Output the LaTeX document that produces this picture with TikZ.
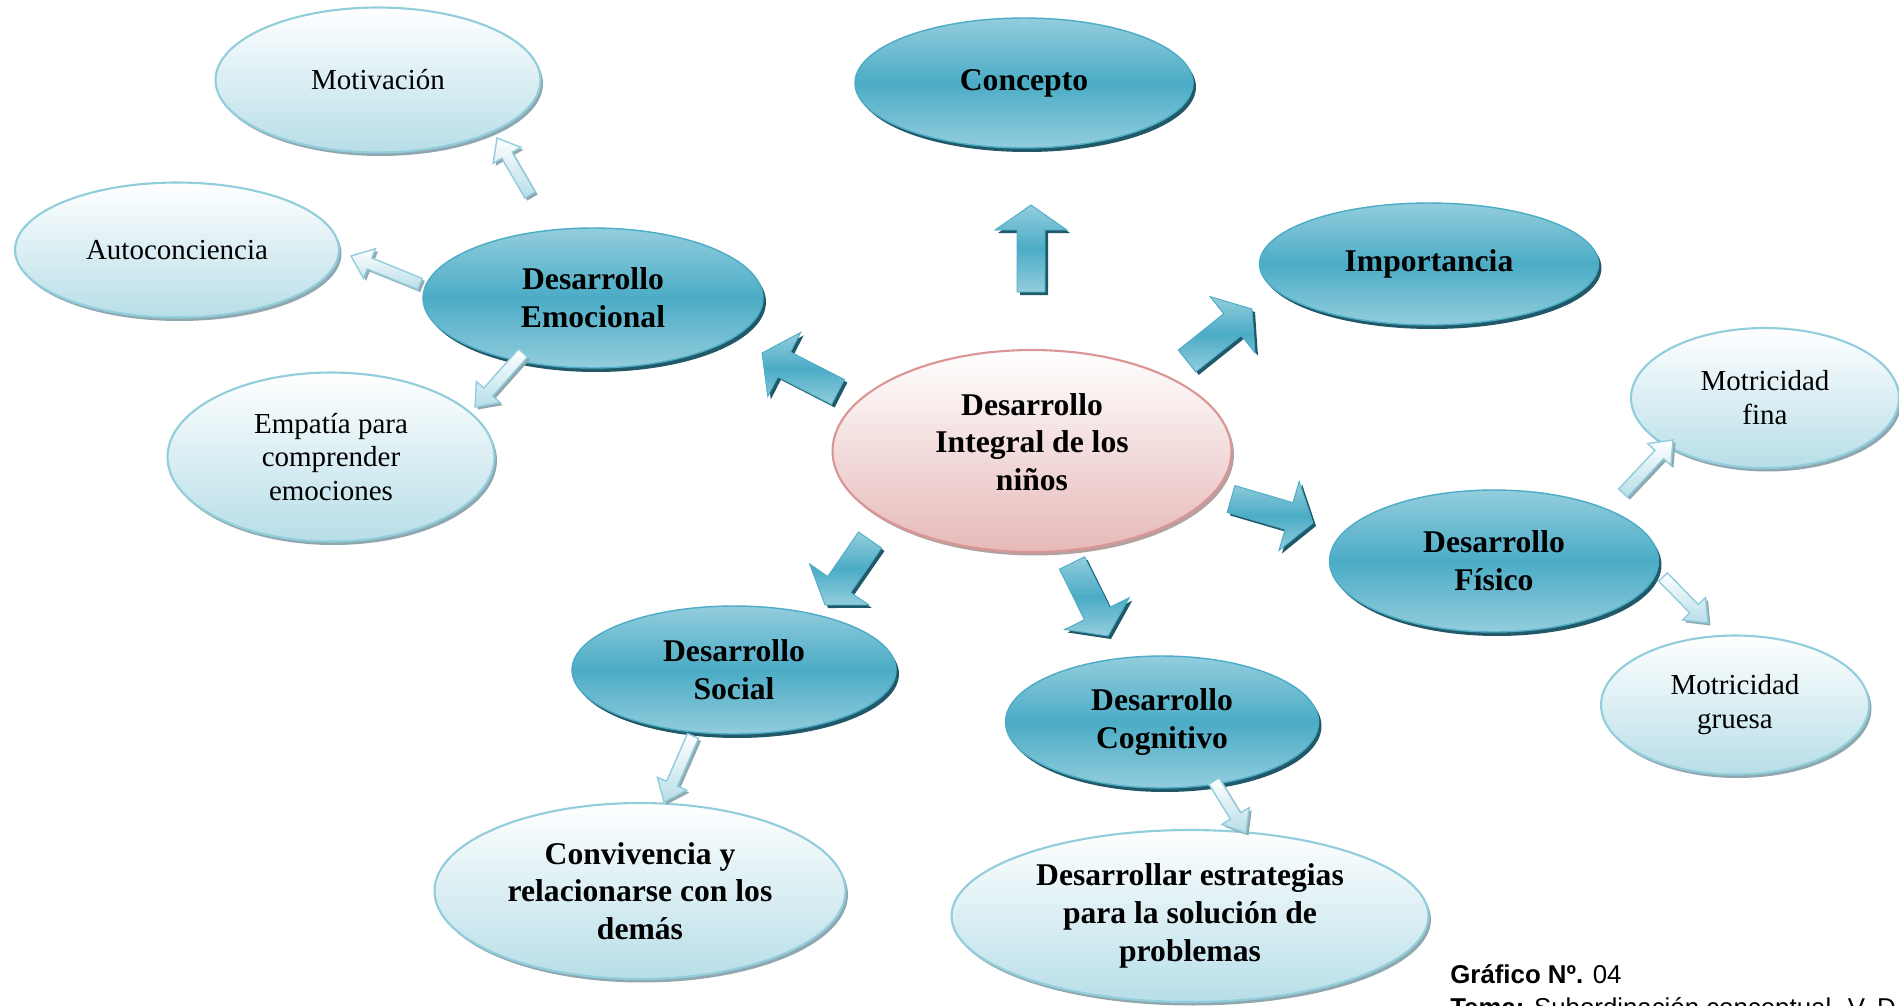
\documentclass[tikz,border=0pt]{standalone}
\usepackage{fontspec}
\setmainfont{Liberation Serif}
\newfontfamily\capfont{Liberation Sans}
\usetikzlibrary{shapes.geometric, shadows, calc}

\definecolor{azulmed}{HTML}{4BACC6}
\definecolor{azulclaro}{HTML}{93CDDD}
\definecolor{azulsombra}{HTML}{215968}
\definecolor{celeste}{HTML}{B7DEE8}
\definecolor{celesteborde}{HTML}{92CDDC}
\definecolor{celestesombra}{HTML}{8FA7AF}
\definecolor{rosa}{HTML}{E6B9B8}
\definecolor{rosaborde}{HTML}{D99694}
\definecolor{rosasombra}{HTML}{B3A0A0}

\newcommand{\negrita}{\fontsize{18}{21.5}\selectfont\bfseries}
\newcommand{\fuentenormal}{\fontsize{16.5}{19.3}\selectfont}

% block arrow: style, tail, tip, half shaft, half head, head length
\newcommand{\blockarrow}[6]{%
    \path[#1] ($(#2)!#4!90:(#3)$) -- ($(#3)!#6!(#2)!#4!90:(#3)$)
        -- ($(#3)!#6!(#2)!#5!90:(#3)$) -- (#3)
        -- ($(#3)!#6!(#2)!#5!-90:(#3)$) -- ($(#3)!#6!(#2)!#4!-90:(#3)$)
        -- ($(#2)!#4!-90:(#3)$) -- cycle;}

\tikzset{
    every node/.style={align=center, inner sep=0pt}, % text centred, no padding
    principal/.style={ellipse, draw=rosaborde, line width=1.2pt, top color=white, bottom color=rosa,
        drop shadow={shadow xshift=0.05cm, shadow yshift=-0.07cm, fill=rosasombra, opacity=1}},
    tema/.style={ellipse, draw=azulmed, line width=0.8pt, top color=azulclaro, bottom color=azulclaro, middle color=azulmed,
        drop shadow={shadow xshift=0.06cm, shadow yshift=-0.08cm, fill=azulsombra, opacity=1}, font=\negrita},
    sub/.style={ellipse, draw=celesteborde, line width=1.2pt, top color=white, bottom color=celeste,
        drop shadow={shadow xshift=0.05cm, shadow yshift=-0.07cm, fill=celestesombra, opacity=1}, font=\fuentenormal},
    subneg/.style={sub, font=\negrita},
    flecha/.style={top color=azulclaro, bottom color=azulclaro, middle color=azulmed, draw=azulmed, line width=0.5pt},
    flechasombra/.style={fill=azulsombra, transform canvas={shift={(0.06cm,-0.06cm)}}},
    flechita/.style={top color=white, bottom color=celeste, draw=celesteborde, line width=0.8pt},
    flechitasombra/.style={fill=celestesombra, transform canvas={shift={(0.05cm,-0.05cm)}}},
}

\begin{document}
\begin{tikzpicture}[x=0.02cm, y=-0.02cm]
\useasboundingbox (0,0) rectangle (1899,1005);
\clip (0,0) rectangle (1899,1005);
\fill[white] (0,0) rectangle (1899,1005);

% ellipses
\node[principal, minimum width=7.98cm, minimum height=4.04cm] (cen) at (1032,451) {};
\node[font=\negrita] (cenTxt) at ($(cen.center)+(0,-9)$) {Desarrollo\\Integral de los\\niños};
\node[tema, minimum width=6.76cm, minimum height=2.6cm] (con) at (1024,83) {Concepto};
\node[tema, minimum width=6.78cm, minimum height=2.44cm] (imp) at (1429,264) {Importancia};
\node[tema, minimum width=6.8cm, minimum height=2.8cm] (emo) at (593,298) {Desarrollo\\Emocional};
\node[tema, minimum width=6.58cm, minimum height=2.84cm] (fis) at (1494,561) {Desarrollo\\Físico};
\node[tema, minimum width=6.48cm, minimum height=2.56cm] (soc) at (734,670) {Desarrollo\\Social};
\node[tema, minimum width=6.26cm, minimum height=2.64cm] (cog) at (1162,722) {Desarrollo\\Cognitivo};
\node[sub, minimum width=6.5cm, minimum height=2.9cm] (mot) at (378,80) {Motivación};
\node[sub, minimum width=6.48cm, minimum height=2.7cm] (auto) at (177,250) {Autoconciencia};
\node[sub, minimum width=6.54cm, minimum height=3.38cm] (emp) at (331,457) {Empatía para\\comprender\\emociones};
\node[sub, minimum width=5.36cm, minimum height=2.8cm] (mfin) at (1765,398) {Motricidad\\fina};
\node[sub, minimum width=5.36cm, minimum height=2.78cm] (mgru) at (1735,705) {Motricidad\\gruesa};
\node[subneg, minimum width=8.22cm, minimum height=3.52cm] (conv) at (640,891) {Convivencia y\\relacionarse con los\\demás};
\node[subneg, minimum width=9.54cm, minimum height=3.44cm] (estr) at (1190,916) {Desarrollar estrategias\\para la solución de\\problemas};

% arrow ends
\coordinate (conT) at (1031,292); \coordinate (conH) at (1031,205);
\coordinate (impT) at (1187,361); \coordinate (impH) at (1252,309);
\coordinate (fisT) at (1231,499); \coordinate (fisH) at (1313,523);
\coordinate (emoT) at (838,392);  \coordinate (emoH) at (762,353);
\coordinate (socT) at (870,540);  \coordinate (socH) at (825,605);
\coordinate (cogT) at (1072,563); \coordinate (cogH) at (1108,636);
\coordinate (motT) at (530,195);  \coordinate (motH) at (497,138);
\coordinate (autoT) at (420,284); \coordinate (autoH) at (351,256);
\coordinate (empT) at (523,353);  \coordinate (empH) at (475,407);
\coordinate (convT) at (693,736); \coordinate (convH) at (664,802);
\coordinate (estrT) at (1214,781); \coordinate (estrH) at (1246,833);
\coordinate (mfinT) at (1623,493); \coordinate (mfinH) at (1673,440);
\coordinate (mgruT) at (1663,577); \coordinate (mgruH) at (1708,623);

% big arrows from the centre
\blockarrow{flechasombra}{conT}{conH}{0.28cm}{0.72cm}{0.5cm}
\blockarrow{flecha}{conT}{conH}{0.28cm}{0.72cm}{0.5cm}
\blockarrow{flechasombra}{impT}{impH}{0.28cm}{0.72cm}{0.5cm}
\blockarrow{flecha}{impT}{impH}{0.28cm}{0.72cm}{0.5cm}
\blockarrow{flechasombra}{fisT}{fisH}{0.28cm}{0.72cm}{0.5cm}
\blockarrow{flecha}{fisT}{fisH}{0.28cm}{0.72cm}{0.5cm}
\blockarrow{flechasombra}{emoT}{emoH}{0.28cm}{0.72cm}{0.5cm}
\blockarrow{flecha}{emoT}{emoH}{0.28cm}{0.72cm}{0.5cm}
\blockarrow{flechasombra}{socT}{socH}{0.28cm}{0.72cm}{0.5cm}
\blockarrow{flecha}{socT}{socH}{0.28cm}{0.72cm}{0.5cm}
\blockarrow{flechasombra}{cogT}{cogH}{0.28cm}{0.72cm}{0.5cm}
\blockarrow{flecha}{cogT}{cogH}{0.28cm}{0.72cm}{0.5cm}

% small arrows to the sub ideas
\foreach \n in {mot, auto, emp, conv, estr, mfin, mgru} {
    \blockarrow{flechitasombra}{\n T}{\n H}{0.12cm}{0.32cm}{0.4cm}
    \blockarrow{flechita}{\n T}{\n H}{0.12cm}{0.32cm}{0.4cm}
}

% caption
\node[anchor=base west, font=\capfont\fontsize{14.7}{17}\selectfont] (graf) at (1450,983) {\textbf{Gráfico Nº.} 04};
\node[anchor=base west, font=\capfont\fontsize{14.7}{17}\selectfont] (tema) at (1450,1016) {\textbf{Tema:} Subordinación conceptual. V. D};
\end{tikzpicture}
\end{document}
